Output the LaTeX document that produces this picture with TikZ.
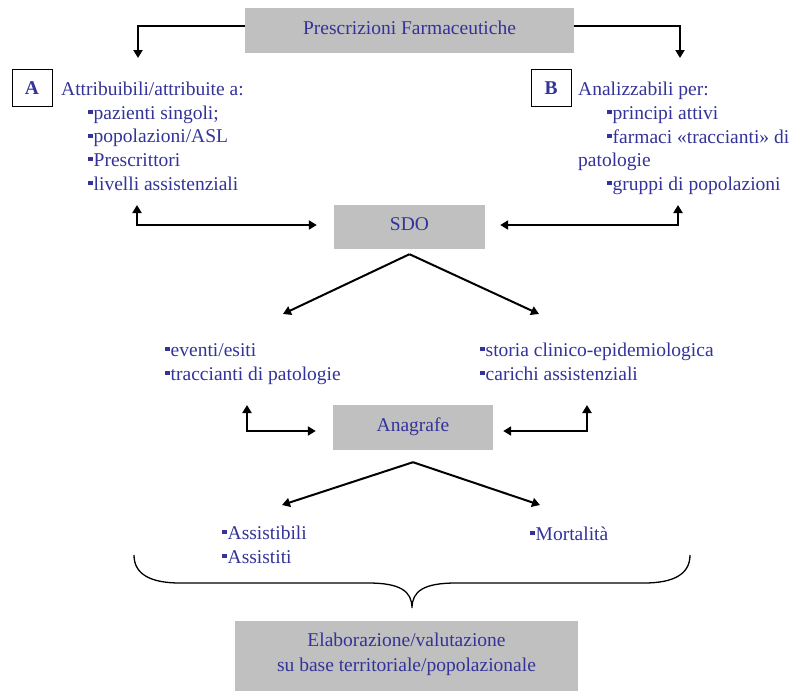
\documentclass[tikz,border=0pt]{standalone}
\usepackage{fontspec}
\setmainfont{Liberation Serif}
\usetikzlibrary{arrows.meta}
\definecolor{txt}{RGB}{51,51,153}
\definecolor{boxgray}{RGB}{192,192,192}
\newcommand\bsq{\raisebox{5pt}{\rule{4.5pt}{4pt}}\hspace{1pt}}
\begin{document}
\begin{tikzpicture}[x=1pt,y=-1pt,
  every node/.style={font=\fontsize{19.5}{23.6}\selectfont, text=txt, inner sep=0pt},
  graybox/.style={fill=boxgray, text height=12pt, text depth=5pt},
  letterbox/.style={draw=black, line width=1pt, fill=white, minimum width=40pt, minimum height=37pt, text height=13pt, text depth=0pt, font=\fontsize{19.5}{23.6}\selectfont\bfseries},
  lbl/.style={anchor=base west, align=left},
  arr/.style={line width=2pt, -{Triangle[length=8pt,width=9pt]}},
  darr/.style={line width=2pt, {Triangle[length=8pt,width=9pt]}-{Triangle[length=8pt,width=9pt]}},
  bracestyle/.style={line width=1.3pt}
]
\useasboundingbox (0,0) rectangle (790,691);

% boxes
\node[graybox, minimum width=329pt, minimum height=45pt] (top) at (409.5,30.5) {Prescrizioni Farmaceutiche};
\node[graybox, minimum width=151pt, minimum height=44pt] (sdo) at (409.5,227) {SDO};
\node[graybox, minimum width=160pt, minimum height=45pt] (ana) at (413,427.5) {Anagrafe};
\node[fill=boxgray, align=center, font=\fontsize{19.5}{25}\selectfont, text height=38pt, text depth=8pt, minimum width=343pt, minimum height=70pt] (elab) at (406.5,656) {Elaborazione/valutazione\\su base territoriale/popolazionale};

% A side
\node[letterbox] (A) at (32,87.5) {A};
\node[lbl] (aHead) at (61,95) {Attribuibili/attribuite a:};
\node[lbl] (aList) at (88,190) {\bsq pazienti singoli;\\\bsq popolazioni/ASL\\\bsq Prescrittori\\\bsq livelli assistenziali};

% B side
\node[letterbox] (B) at (551,87.5) {B};
\node[lbl] (bHead) at (578,95) {Analizzabili per:};
\node[lbl] (b1) at (607,119) {\bsq principi attivi};
\node[lbl] (b2) at (607,143) {\bsq farmaci «traccianti» di};
\node[lbl] (b3) at (578,166.5) {patologie};
\node[lbl] (b4) at (607,190) {\bsq gruppi di popolazioni};

% SDO outputs
\node[lbl] (sL) at (165,380) {\bsq eventi/esiti\\\bsq traccianti di patologie};
\node[lbl] (sR) at (480,380) {\bsq storia clinico-epidemiologica\\\bsq carichi assistenziali};

% Anagrafe outputs
\node[lbl] (nL) at (222,563) {\bsq Assistibili\\\bsq Assistiti};
\node[lbl] (nR) at (530,540) {\bsq Mortalità};

% coordinates
\coordinate (tA) at (138,58);
\coordinate (tB) at (680,58);
\coordinate (aUp) at (137,205);
\coordinate (bUp) at (678,205);
\coordinate (sTipL) at (283,314);
\coordinate (sTipR) at (539,314);
\coordinate (lUp) at (247,405);
\coordinate (rUp) at (587,405);
\coordinate (nTipL) at (282,505);
\coordinate (nTipR) at (540,505);

% connectors
\draw[arr] ([yshift=4.5pt]top.west) -| (tA);
\draw[arr] ([yshift=4.5pt]top.east) -| (tB);
\draw[darr] (aUp) |- ([xshift=-17pt,yshift=2pt]sdo.west);
\draw[darr] ([xshift=15pt,yshift=2pt]sdo.east) -| (bUp);
\draw[arr] ([yshift=-5pt]sdo.south) -- (sTipL);
\draw[arr] ([yshift=-5pt]sdo.south) -- (sTipR);
\draw[darr] (lUp) |- ([xshift=-17pt,yshift=-3.5pt]ana.west);
\draw[darr] ([xshift=10pt,yshift=-3.5pt]ana.east) -| (rUp);
\draw[arr] ([yshift=-12pt]ana.south) -- (nTipL);
\draw[arr] ([yshift=-12pt]ana.south) -- (nTipR);

% brace
\draw[bracestyle] (134,555) .. controls (134,574) and (150,583) .. (180,583)
  -- (368,583) .. controls (400,583) and (412,591) .. (412,608)
  .. controls (412,591) and (424,583) .. (456,583)
  -- (644,583) .. controls (674,583) and (690,574) .. (690,555);
\end{tikzpicture}
\end{document}
